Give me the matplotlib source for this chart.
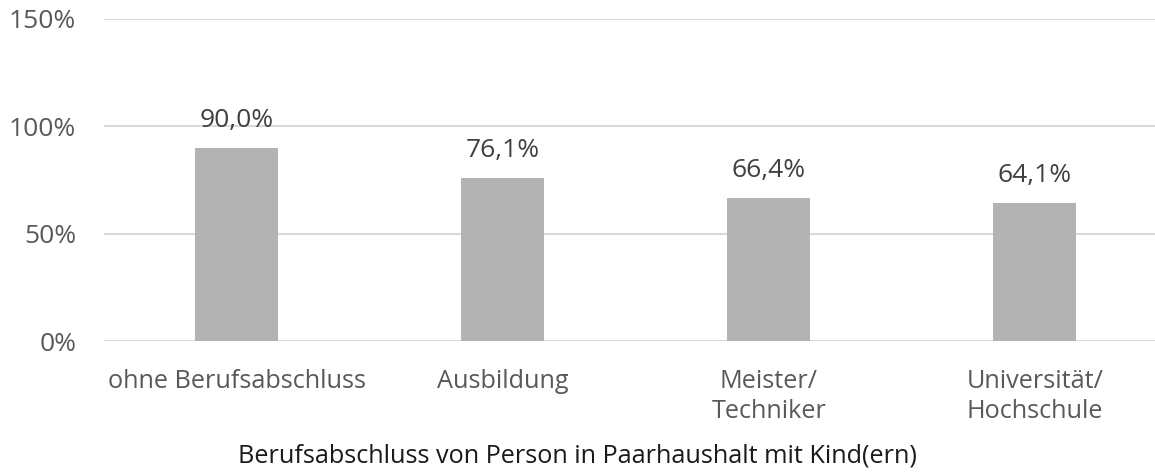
"""
Anteil nach Berufsabschluss - Balkendiagramm im Excel-Stil.
"""
import matplotlib
matplotlib.use("Agg")
import matplotlib.pyplot as plt
from matplotlib.ticker import FuncFormatter

plt.rcParams['font.family'] = ['Open Sans', 'DejaVu Sans']

# Daten
categories = ['ohne Berufsabschluss', 'Ausbildung', 'Meister/\nTechniker', 'Universität/\nHochschule']
values = [90.0, 76.1, 66.4, 64.1]
y_ticks = [0, 50, 100, 150]

bar_color = '#b3b3b3'
grid_color = '#d9d9d9'
tick_color = '#595959'
label_color = '#404040'

fig = plt.figure(figsize=(11.55, 4.73), dpi=100)
# Plot area runs slightly past the right edge, as in the original
ax = fig.add_axes([0.090, 0.279, 0.921, 0.681])

x = list(range(len(categories)))
bars = ax.bar(x, values, width=0.312, color=bar_color, zorder=2)

# Value labels above bars
for b, v in zip(bars, values):
    ax.annotate(f'{v:.1f}%'.replace('.', ','),
                (b.get_x() + b.get_width() / 2, v),
                xytext=(0, 15), textcoords='offset pixels',
                ha='center', va='bottom', fontsize=19, color=label_color)

ax.set_xlim(-0.5, len(categories) - 0.5)
ax.set_ylim(0, 150)
ax.set_yticks(y_ticks)
ax.yaxis.set_major_formatter(FuncFormatter(lambda v, p: f'{v:.0f}%'))
ax.set_xticks(x)
ax.set_xticklabels(categories, linespacing=1.25)

ax.grid(axis='y', color=grid_color, linewidth=1.5, zorder=0)
for s in ax.spines.values():
    s.set_visible(False)
ax.tick_params(axis='both', length=0, colors=tick_color)
ax.tick_params(axis='y', pad=20, labelsize=19)
ax.tick_params(axis='x', pad=20, labelsize=18.2)

fig.text(0.5, 0.01, 'Berufsabschluss von Person in Paarhaushalt mit Kind(ern)',
         ha='center', va='bottom', fontsize=18.2, color='#1a1a1a')

fig.savefig('out.png', dpi=100)
